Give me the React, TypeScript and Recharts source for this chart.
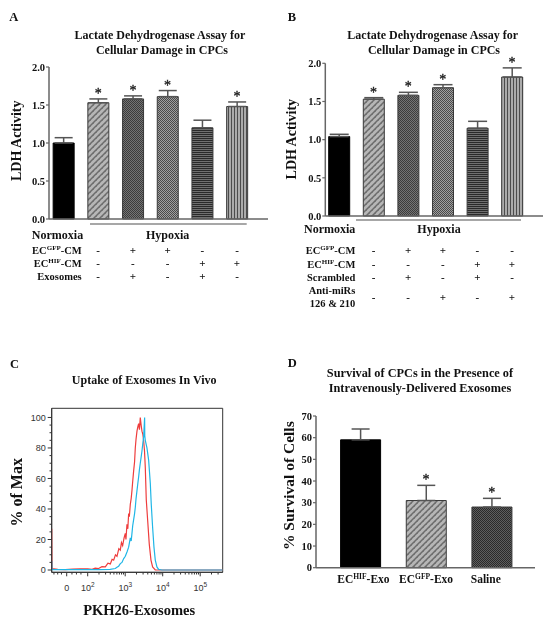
import React from 'react';
import { ComposedChart, LineChart, Bar, Line, XAxis, YAxis, ErrorBar, Cell, ReferenceArea } from 'recharts';

const SERIF = '"Liberation Serif", "Times New Roman", Times, serif';
const SANS = '"Liberation Sans", Arial, Helvetica, sans-serif';
const INK = '#111';

// ---------------- Panel A ----------------
const aTitle = ['Lactate Dehydrogenase Assay for', 'Cellular Damage in CPCs'];
const aGroups = ['Normoxia', 'Hypoxia', 'GFP-CM + Exo', 'GFP-CM', 'HIF-CM + Exo', 'HIF-CM'];
const aValues = [1.0, 1.53, 1.58, 1.61, 1.2, 1.48];
const aErrors = [0.07, 0.05, 0.04, 0.08, 0.1, 0.06];
const aStars = [false, true, true, true, false, true];
const aRowLabels = [[['EC', 'GFP', '-CM']], [['EC', 'HIF', '-CM']], [['Exosomes']]];
const aRows = [
  ['-', '+', '+', '-', '-'],
  ['-', '-', '-', '+', '+'],
  ['-', '+', '-', '+', '-'],
];
const aYTicks = [0, 0.5, 1, 1.5, 2];

// ---------------- Panel B ----------------
const bTitle = ['Lactate Dehydrogenase Assay for', 'Cellular Damage in CPCs'];
const bGroups = ['Normoxia', 'Hypoxia', 'GFP-CM + Scr', 'GFP-CM + Anti', 'HIF-CM + Scr', 'HIF-CM + Anti'];
const bValues = [1.04, 1.53, 1.58, 1.68, 1.15, 1.82];
const bErrors = [0.03, 0.02, 0.04, 0.04, 0.09, 0.12];
const bStars = [false, true, true, true, false, true];
const bRowLabels = [[['EC', 'GFP', '-CM']], [['EC', 'HIF', '-CM']], [['Scrambled']], [['Anti-miRs'], ['126 & 210']]];
const bRows = [
  ['-', '+', '+', '-', '-'],
  ['-', '-', '-', '+', '+'],
  ['-', '+', '-', '+', '-'],
  ['-', '-', '+', '-', '+'],
];
const bYTicks = [0, 0.5, 1, 1.5, 2];

// ---------------- Panel C ----------------
const cTitle = 'Uptake of Exosomes In Vivo';
const redX = [1.04, 1.046, 1.2, 1.4, 1.6, 1.8, 2.0, 2.115, 2.2, 2.292, 2.38, 2.47, 2.54, 2.603, 2.65, 2.692, 2.74, 2.781, 2.83, 2.869, 2.9, 2.932, 2.97, 3.003, 3.02, 3.047, 3.07, 3.092, 3.11, 3.136, 3.16, 3.18, 3.2, 3.225, 3.25, 3.269, 3.29, 3.314, 3.338, 3.358, 3.38, 3.402, 3.425, 3.447, 3.47, 3.491, 3.515, 3.536, 3.562, 3.598, 3.642, 3.687, 3.731, 3.802, 4.5, 5.6];
const redY = [27, 1, 0.4, 0.3, 0.6, 0.8, 0.7, 0.5, 1.2, 1, 2.2, 2, 4.5, 4, 7, 6.5, 10, 9, 14, 13, 18, 16, 21, 24, 20, 30, 27, 37, 35, 43, 47, 52, 58, 65, 71, 80, 86, 91, 94, 96, 92, 100, 95, 91, 89, 85, 78, 67, 46, 33, 17, 6.5, 2, 0, 0, 0];
const cyanX = [1.04, 1.046, 1.3, 1.6, 2.0, 2.3, 2.6, 2.736, 2.78, 2.825, 2.87, 2.914, 2.96, 3.003, 3.05, 3.092, 3.136, 3.16, 3.18, 3.2, 3.225, 3.25, 3.269, 3.29, 3.314, 3.338, 3.358, 3.38, 3.402, 3.425, 3.447, 3.47, 3.491, 3.518, 3.522, 3.536, 3.58, 3.625, 3.669, 3.695, 3.731, 3.767, 3.802, 3.846, 3.891, 3.98, 4.5, 5.6];
const cyanY = [6, 0.3, 0.2, 0.2, 0.3, 0.2, 0.4, 1, 1.8, 2.5, 4.2, 5, 7.5, 9, 12, 15, 21, 19, 24, 29, 33, 37, 41, 47, 52, 57, 61, 66, 70, 74, 78, 83, 87, 100, 88, 85, 80, 72, 57, 43, 28, 15, 6.5, 2, 0.4, 0, 0, 0];
const cMajorTicks = [1.44, 2, 3, 4, 5];
const cMajorLabels = [['0'], ['10', '2'], ['10', '3'], ['10', '4'], ['10', '5']];
const cLinearMinor = [1.1, 1.2, 1.3, 1.58, 1.7, 1.82];
const cLogMinor: number[] = [];
[2, 3, 4].forEach((n) => [2, 3, 4, 5, 6, 7, 8, 9].forEach((k) => cLogMinor.push(n + Math.log10(k))));
[2, 3].forEach((k) => cLogMinor.push(5 + Math.log10(k)));
const cXTicks = [...cLinearMinor, ...cMajorTicks, ...cLogMinor].sort((p, q) => p - q);
const cYTicks = [0, 5, 10, 15, 20, 25, 30, 35, 40, 45, 50, 55, 60, 65, 70, 75, 80, 85, 90, 95, 100];

// ---------------- Panel D ----------------
const dTitle = ['Survival of CPCs in the Presence of', 'Intravenously-Delivered Exosomes'];
const dGroups = ['ECHIF-Exo', 'ECGFP-Exo', 'Saline'];
const dLabels = [['EC', 'HIF', '-Exo'], ['EC', 'GFP', '-Exo'], ['Saline']];
const dValues = [59, 31, 28];
const dErrors = [5, 7, 4];
const dStars = [false, true, true];
const dYTicks = [0, 10, 20, 30, 40, 50, 60, 70];

// ---------------- fills ----------------
const aFills = ['#000', 'url(#pDiag)', 'url(#pCheckDark)', 'url(#pCheckMed)', 'url(#pHoriz)', 'url(#pVert)'];
const dFills = ['#000', 'url(#pDiag)', 'url(#pCheckDarker)'];

const build = (groups: string[], values: number[], errors: number[], stars: boolean[]) =>
  groups.map((g, i) => ({
    group: g,
    value: values[i],
    err: [0, errors[i]],
    star: stars[i] ? values[i] + errors[i] : null,
  }));

const aData = build(aGroups, aValues, aErrors, aStars);
const bData = build(bGroups, bValues, bErrors, bStars);
const dData = build(dGroups, dValues, dErrors, dStars);
const redData = redX.map((x, i) => ({ x, y: redY[i] }));
const cyanData = cyanX.map((x, i) => ({ x, y: cyanY[i] }));

const renderParts = (parts: string[], supSize: number, shift: number) => {
  if (parts.length === 1) return parts[0];
  return [
    <tspan key="a">{parts[0]}</tspan>,
    <tspan key="b" fontSize={supSize} dy={-shift}>{parts[1]}</tspan>,
    <tspan key="c" dy={shift}>{parts[2]}</tspan>,
  ];
};

const starDot = (props: any) => {
  const { cx, cy, index, payload } = props;
  if (!payload || payload.star == null || cy == null || isNaN(cy)) return <g key={`s${index}`} />;
  return (
    <text
      key={`s${index}`}
      x={cx}
      y={cy - 1}
      textAnchor="middle"
      fontFamily={SERIF}
      fontSize={14}
      fill="#222"
      stroke="#222"
      strokeWidth={0.35}
    >
      *
    </text>
  );
};

interface TableCfg {
  rows: string[][];
  rowLabels: string[][][];
  rowLabelDy: number[][];
  markDy: number[];
  labelDx: number;
  normDx: number;
  normDy: number;
  hypIndex: number;
  hypDx: number;
  hypDy: number;
  lineDy: number;
  lineFrom: number;
  lineTo: number;
}

const makeTableTick = (cfg: TableCfg) => (props: any) => {
  const { x, y } = props;
  const index = props.index ?? props.payload?.index ?? 0;
  const els: React.ReactNode[] = [];
  const common = { fontFamily: SERIF, fontWeight: 700, fill: INK };
  if (index === 0) {
    els.push(
      <text key="n" x={x + cfg.normDx} y={y + cfg.normDy} textAnchor="middle" fontSize={12} {...common}>
        Normoxia
      </text>
    );
    cfg.rowLabels.forEach((lines, r) =>
      lines.forEach((parts, l) =>
        els.push(
          <text key={`l${r}-${l}`} x={x + cfg.labelDx} y={y + cfg.rowLabelDy[r][l]} textAnchor="end" fontSize={10.5} {...common}>
            {renderParts(parts, 7, 4)}
          </text>
        )
      )
    );
  } else {
    cfg.rows.forEach((row, r) =>
      els.push(
        <text key={`m${r}`} x={x} y={y + cfg.markDy[r]} textAnchor="middle" fontSize={11} {...common}>
          {row[index - 1]}
        </text>
      )
    );
  }
  if (index === cfg.hypIndex) {
    els.push(
      <text key="h" x={x + cfg.hypDx} y={y + cfg.hypDy} textAnchor="middle" fontSize={12} {...common}>
        Hypoxia
      </text>
    );
    els.push(
      <line key="hl" x1={x + cfg.lineFrom} x2={x + cfg.lineTo} y1={y + cfg.lineDy} y2={y + cfg.lineDy} stroke="#8a8a8a" strokeWidth={1.5} />
    );
  }
  return <g>{els}</g>;
};

const aTick = makeTableTick({
  rows: aRows,
  rowLabels: aRowLabels,
  rowLabelDy: [[34.5], [48], [61]],
  markDy: [34.5, 48, 61],
  labelDx: 18.2,
  normDx: -6,
  normDy: 20,
  hypIndex: 3,
  hypDx: 0,
  hypDy: 20,
  lineDy: 5,
  lineFrom: -77.6,
  lineTo: 79.1,
});

const bTick = makeTableTick({
  rows: bRows,
  rowLabels: bRowLabels,
  rowLabelDy: [[38], [51.7], [65], [78.3, 91]],
  markDy: [38, 51.7, 65, 84.5],
  labelDx: 16.3,
  normDx: -9.3,
  normDy: 17.3,
  hypIndex: 3,
  hypDx: -3.8,
  hypDy: 17.3,
  lineDy: 4,
  lineFrom: -86.8,
  lineTo: 78.2,
});

const dLabelDx = [3, 0, -6];
const dTick = (props: any) => {
  const { x, y } = props;
  const index = props.index ?? 0;
  return (
    <text x={x + dLabelDx[index]} y={y + 15.6} textAnchor="middle" fontFamily={SERIF} fontWeight={700} fontSize={11.5} fill={INK}>
      {renderParts(dLabels[index], 7.5, 4.5)}
    </text>
  );
};

const cXTick = (props: any) => {
  const { x, y, payload } = props;
  const v = payload.value;
  const mi = cMajorTicks.findIndex((m) => Math.abs(m - v) < 1e-6);
  return (
    <g>
      <line x1={x} x2={x} y1={y} y2={y + (mi >= 0 ? 4 : 2.2)} stroke="#333" strokeWidth={1} />
      {mi >= 0 && (
        <text x={x} y={y + 18.4} textAnchor="middle" fontFamily={SANS} fontSize={9} fill="#333">
          {cMajorLabels[mi].length === 1
            ? cMajorLabels[mi][0]
            : [
                <tspan key="a">{cMajorLabels[mi][0]}</tspan>,
                <tspan key="b" fontSize={6.5} dy={-4}>{cMajorLabels[mi][1]}</tspan>,
              ]}
        </text>
      )}
    </g>
  );
};

const cYTick = (props: any) => {
  const { x, y, payload } = props;
  const v = payload.value;
  const major = v % 20 === 0;
  return (
    <g>
      <line x1={x} x2={x - (major ? 4 : 2.2)} y1={y} y2={y} stroke="#333" strokeWidth={1} />
      {major && (
        <text x={x - 6} y={y} dy="0.35em" textAnchor="end" fontFamily={SANS} fontSize={9} fill="#333">
          {v}
        </text>
      )}
    </g>
  );
};

const yTickStyle = { fontFamily: SERIF, fontWeight: 700, fontSize: 10.5, fill: INK };

const Patterns = () => (
  <svg width={0} height={0} style={{ position: 'absolute' }}>
    <defs>
      <pattern id="pDiag" width="6" height="6" patternUnits="userSpaceOnUse">
        <rect width="6" height="6" fill="#b6b6b6" />
        <rect x="0" y="0" width="1" height="1" fill="#8a8a8a" />
        <rect x="3" y="3" width="1" height="1" fill="#8a8a8a" />
        <path d="M-1.5,1.5 L1.5,-1.5 M0,6 L6,0 M4.5,7.5 L7.5,4.5" stroke="#6c6c6c" strokeWidth="1.5" />
      </pattern>
      <pattern id="pCheckDark" width="2" height="2" patternUnits="userSpaceOnUse">
        <rect width="2" height="2" fill="#747474" />
        <rect x="0" y="0" width="1" height="1" fill="#3c3c3c" />
        <rect x="1" y="1" width="1" height="1" fill="#3c3c3c" />
      </pattern>
      <pattern id="pCheckMed" width="2" height="2" patternUnits="userSpaceOnUse">
        <rect width="2" height="2" fill="#a0a0a0" />
        <rect x="0" y="0" width="1" height="1" fill="#4a4a4a" />
        <rect x="1" y="1" width="1" height="1" fill="#4a4a4a" />
      </pattern>
      <pattern id="pCheckDarker" width="2" height="2" patternUnits="userSpaceOnUse">
        <rect width="2" height="2" fill="#5e5e5e" />
        <rect x="0" y="0" width="1" height="1" fill="#2a2a2a" />
        <rect x="1" y="1" width="1" height="1" fill="#2a2a2a" />
      </pattern>
      <pattern id="pHoriz" width="2" height="2" patternUnits="userSpaceOnUse">
        <rect width="2" height="2" fill="#707070" />
        <rect x="0" y="0" width="2" height="1" fill="#2a2a2a" />
      </pattern>
      <pattern id="pVert" width="3" height="3" patternUnits="userSpaceOnUse">
        <rect width="3" height="3" fill="#ababab" />
        <rect x="0" y="0" width="1" height="3" fill="#4c4c4c" />
      </pattern>
    </defs>
  </svg>
);

const BarPanel = ({
  data, fills, left, top, width, height, margin, yDomain, yTicks, yFmt, yWidth, xHeight, padding, barSize, cap, tick,
}: any) => (
  <div style={{ position: 'absolute', left, top, filter: 'grayscale(1)' }}>
    <ComposedChart width={width} height={height} data={data} margin={margin}>
      <XAxis
        dataKey="group"
        type="category"
        padding={padding}
        interval={0}
        tickLine={false}
        tickSize={0}
        tickMargin={0}
        height={xHeight}
        axisLine={{ stroke: '#666', strokeWidth: 1.5 }}
        tick={tick}
      />
      <YAxis
        type="number"
        domain={yDomain}
        ticks={yTicks}
        interval={0}
        tickFormatter={yFmt}
        width={yWidth}
        tickSize={3}
        tickMargin={1}
        axisLine={{ stroke: '#666', strokeWidth: 1.5 }}
        tickLine={{ stroke: '#666', strokeWidth: 1.2 }}
        tick={yTickStyle}
      />
      <Bar dataKey="value" barSize={barSize} isAnimationActive={false}>
        {data.map((d: any, i: number) => (
          <Cell key={d.group} fill={fills[i]} stroke={i === 0 ? '#000' : '#3a3a3a'} strokeWidth={1} />
        ))}
        <ErrorBar dataKey="err" width={cap} stroke="#555" strokeWidth={1.5} direction="y" />
      </Bar>
      <Line dataKey="star" stroke="none" dot={starDot} activeDot={false} isAnimationActive={false} legendType="none" />
    </ComposedChart>
  </div>
);

export default function App() {
  return (
    <div
      style={{
        position: 'absolute',
        left: 0,
        top: 0,
        width: 552,
        height: 625,
        background: '#fff',
        overflow: 'hidden',
      }}
    >
      <Patterns />
      <BarPanel
        data={aData}
        fills={aFills}
        left={0}
        top={0}
        width={276}
        height={320}
        margin={{ top: 67, right: 8, bottom: 21, left: 9 }}
        yDomain={[0, 2]}
        yTicks={aYTicks}
        yFmt={(v: number) => v.toFixed(1)}
        yWidth={40}
        xHeight={80}
        padding={{ left: -2.85, right: 13.65 }}
        barSize={21}
        cap={9}
        tick={aTick}
      />
      <BarPanel
        data={bData}
        fills={aFills}
        left={276}
        top={0}
        width={276}
        height={320}
        margin={{ top: 63.3, right: 9, bottom: 9, left: 9.3 }}
        yDomain={[0, 2]}
        yTicks={bYTicks}
        yFmt={(v: number) => v.toFixed(1)}
        yWidth={40}
        xHeight={95}
        padding={{ left: -3.6, right: 13.7 }}
        barSize={21}
        cap={9.5}
        tick={bTick}
      />
      <BarPanel
        data={dData}
        fills={dFills}
        left={276}
        top={320}
        width={276}
        height={305}
        margin={{ top: 96, right: 17, bottom: 27.3, left: 4 }}
        yDomain={[0, 70]}
        yTicks={dYTicks}
        yFmt={(v: number) => String(v)}
        yWidth={36}
        xHeight={30}
        padding={{ left: 11.6, right: 10.4 }}
        barSize={40}
        cap={9}
        tick={dTick}
      />
      <div style={{ position: 'absolute', left: 0, top: 320 }}>
        <LineChart width={276} height={305} margin={{ top: 88.3, right: 53.3, bottom: 22.7, left: 11.7 }}>
          <XAxis
            dataKey="x"
            type="number"
            domain={[1.04, 5.6]}
            allowDataOverflow
            ticks={cXTicks}
            interval={0}
            tickLine={false}
            tickSize={0}
            tickMargin={0}
            height={30}
            axisLine={{ stroke: '#333' }}
            tick={cXTick}
          />
          <YAxis
            type="number"
            domain={[-1.5, 106]}
            allowDataOverflow
            ticks={cYTicks}
            interval={0}
            tickLine={false}
            tickSize={0}
            tickMargin={0}
            width={40}
            axisLine={{ stroke: '#333' }}
            tick={cYTick}
          />
          <ReferenceArea x1={1.04} x2={5.6} y1={-1.5} y2={106} fill="none" stroke="#333" strokeWidth={1} ifOverflow="visible" />
          <Line data={redData} dataKey="y" type="linear" stroke="#ee3d3d" strokeWidth={1.2} dot={false} activeDot={false} isAnimationActive={false} />
          <Line data={cyanData} dataKey="y" type="linear" stroke="#20b6e6" strokeWidth={1.2} dot={false} activeDot={false} isAnimationActive={false} />
        </LineChart>
      </div>
      <svg width={552} height={625} style={{ position: 'absolute', left: 0, top: 0, pointerEvents: 'none', filter: 'grayscale(1)' }}>
        <g fontFamily={SERIF} fontWeight={700} fill={INK}>
          <text x={9.3} y={20.7} fontSize={12.5}>A</text>
          <text x={160} y={39.3} fontSize={12} textAnchor="middle">{aTitle[0]}</text>
          <text x={162} y={54.3} fontSize={12} textAnchor="middle">{aTitle[1]}</text>
          <text transform="translate(20.5,140.8) rotate(-90)" fontSize={14} textAnchor="middle">LDH Activity</text>

          <text x={287.7} y={20.7} fontSize={12.5}>B</text>
          <text x={432.7} y={39.3} fontSize={12} textAnchor="middle">{bTitle[0]}</text>
          <text x={434} y={54} fontSize={12} textAnchor="middle">{bTitle[1]}</text>
          <text transform="translate(295.5,139.2) rotate(-90)" fontSize={14} textAnchor="middle">LDH Activity</text>

          <text x={10} y={367.7} fontSize={12.5}>C</text>
          <text x={144.2} y={384.3} fontSize={12} textAnchor="middle">{cTitle}</text>
          <text transform="translate(21.5,492.3) rotate(-90)" fontSize={16} textAnchor="middle">% of Max</text>
          <text x={139.2} y={615} fontSize={14.5} textAnchor="middle">PKH26-Exosomes</text>

          <text x={287.7} y={366.7} fontSize={12.5}>D</text>
          <text x={420} y={377.3} fontSize={12.3} textAnchor="middle">{dTitle[0]}</text>
          <text x={420} y={392} fontSize={12.3} textAnchor="middle">{dTitle[1]}</text>
          <text transform="translate(293.5,485.7) rotate(-90)" fontSize={15.5} textAnchor="middle">% Survival of Cells</text>
        </g>
      </svg>
    </div>
  );
}
